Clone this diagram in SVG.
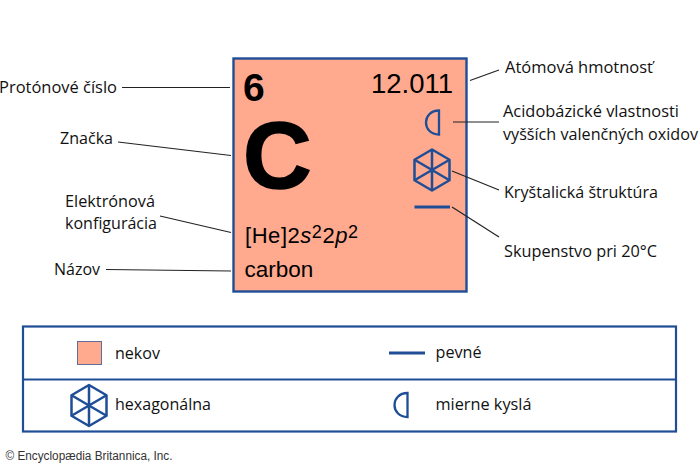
<svg xmlns="http://www.w3.org/2000/svg" width="700" height="467" viewBox="0 0 700 467">
<style>
.l{font-family:"Open Sans","Noto Sans","DejaVu Sans",sans-serif;font-size:15.800px;fill:#111}
.a{font-family:"Liberation Sans",Arial,sans-serif;fill:#000}
.c{stroke:#222;stroke-width:1.200;fill:none}
.b{stroke:#1f4e96;fill:none}
</style>
<defs>
<g id="hex" class="b" stroke-width="2.500" stroke-linejoin="round"><path d="M0-20.500 17.500-10.250V10.250L0 20.500-17.500 10.250V-10.250Z"/><path d="M0-20.500V20.500M-17.500-10.250 17.500 10.250M17.500-10.250-17.500 10.250"/></g>
<path id="half" class="b" stroke-width="2.300" d="M6.500-12V12C-2 12-6.500 6-6.500 0-6.500-6-2-12 6.500-12Z"/>
</defs>
<rect width="700" height="467" fill="#fff"/>
<g id="element-card">
<rect x="233.500" y="58.500" width="233" height="233" fill="#ffa98f" stroke="#1f4e96" stroke-width="2.400"/>
<text class="a" x="243" y="101" font-size="39" font-weight="700">6</text>
<text class="a" x="371" y="92.500" font-size="27" textLength="82" lengthAdjust="spacingAndGlyphs">12.011</text>
<text class="a" x="243" y="188" font-size="95" font-weight="700" stroke="#000" stroke-width="1.500">C</text>
<text class="a" x="245" y="243" font-size="22" textLength="113" lengthAdjust="spacing">[He]2<tspan font-style="italic">s</tspan><tspan font-size="18" dy="-5">2</tspan><tspan dy="5">2</tspan><tspan font-style="italic">p</tspan><tspan font-size="18" dy="-5">2</tspan></text>
<text class="a" x="244.500" y="277" font-size="22.500">carbon</text>
<use href="#half" transform="translate(432.500 122.500)"/>
<use href="#hex" transform="translate(432 170)"/>
<path class="b" stroke-width="3.200" d="M414.500 207H450"/>
</g>
<g id="connectors">
<path class="c" d="M122 87.500H230"/>
<path class="c" d="M118 142 231 155.500"/>
<path class="c" d="M160 216 231 232.500"/>
<path class="c" d="M106 269.500 231 271"/>
<path class="c" d="M470 80.500 499 70"/>
<path class="c" d="M453 122H499"/>
<path class="c" d="M452 171 499 190"/>
<path class="c" d="M452 207 499 237"/>
</g>
<g id="label-protonove"><text class="l" x="-1" y="92.500" textLength="118" lengthAdjust="spacingAndGlyphs">Protónové číslo</text></g>
<g id="label-znacka"><text class="l" x="60" y="143.500" textLength="53" lengthAdjust="spacingAndGlyphs">Značka</text></g>
<g id="label-elektronova"><text class="l" x="65" y="206.500" textLength="90" lengthAdjust="spacingAndGlyphs">Elektrónová</text><text class="l" x="65" y="229" textLength="92" lengthAdjust="spacingAndGlyphs">konfigurácia</text></g>
<g id="label-nazov"><text class="l" x="54" y="274.500" textLength="46" lengthAdjust="spacingAndGlyphs">Názov</text></g>
<g id="label-atomova"><text class="l" x="505" y="72.500" textLength="148" lengthAdjust="spacingAndGlyphs">Atómová hmotnosť</text></g>
<g id="label-acido"><text class="l" x="503" y="117" textLength="176" lengthAdjust="spacingAndGlyphs">Acidobázické vlastnosti</text><text class="l" x="503" y="140" textLength="195" lengthAdjust="spacingAndGlyphs">vyšších valenčných oxidov</text></g>
<g id="label-krystal"><text class="l" x="504" y="198" textLength="154" lengthAdjust="spacingAndGlyphs">Kryštalická štruktúra</text></g>
<g id="label-skupenstvo"><text class="l" x="504" y="257" textLength="153" lengthAdjust="spacingAndGlyphs">Skupenstvo pri 20°C</text></g>
<g id="legend">
<rect x="23" y="326.500" width="653" height="105" fill="none" stroke="#1f4e96" stroke-width="2.200"/>
<path class="b" stroke-width="2.200" d="M23 379.500H676"/>
<g id="legend-nekov"><rect x="77.500" y="341.500" width="24" height="23" fill="#ffa98f" stroke="#5f6f9a" stroke-width="1"/><text class="l" x="115" y="359" textLength="45" lengthAdjust="spacingAndGlyphs">nekov</text></g>
<g id="legend-pevne"><path class="b" stroke-width="3.200" d="M389 353H425"/><text class="l" x="435.500" y="358" textLength="46" lengthAdjust="spacingAndGlyphs">pevné</text></g>
<g id="legend-hex"><use href="#hex" transform="translate(89 405.500)"/><text class="l" x="115" y="410" textLength="96" lengthAdjust="spacingAndGlyphs">hexagonálna</text></g>
<g id="legend-half"><use href="#half" transform="translate(401 405)"/><text class="l" x="435.500" y="410" textLength="96" lengthAdjust="spacingAndGlyphs">mierne kyslá</text></g>
</g>
<text id="copyright" x="5.500" y="460" font-family="Liberation Sans,Arial,sans-serif" font-size="12" fill="#333" textLength="167" lengthAdjust="spacingAndGlyphs">© Encyclopædia Britannica, Inc.</text>
</svg>
